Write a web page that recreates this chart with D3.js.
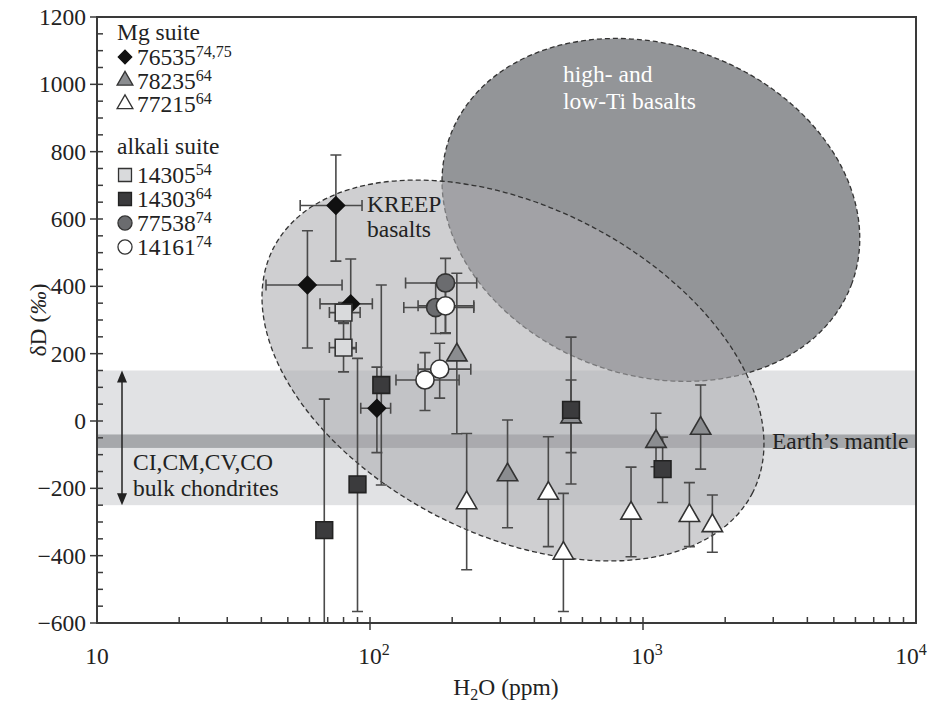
<!DOCTYPE html>
<html>
<head>
<meta charset="utf-8">
<script src="https://cdn.jsdelivr.net/npm/d3@7"></script>
<style>
  body { margin: 0; background: #fff; }
  svg { display: block; font-family: "Liberation Serif", "DejaVu Serif", serif; }
</style>
</head>
<body>
<div id="chart"></div>
<script>
// [H2O ppm, dD, dD low, dD high, H2O low, H2O high]
const s76535 = [
  [75, 640, 475, 790, 55.5, 93.5],
  [59, 404, 217, 565, 41.6, 79],
  [85, 348, 215, 481, 65.6, 102],
  [106, 38, -94, 160, 92.5, 119]
];
const s78235 = [
  [208, 196, -38, 439],
  [319, -160, -317, 3],
  [545, 12, -94, 122],
  [1116, -61, -136, 23],
  [1626, -22, -143, 107]
];
const s77215 = [
  [226, -243, -442, -37],
  [450, -215, -373, -47],
  [511, -393, -566, -215],
  [904, -274, -403, -137],
  [1479, -281, -373, -183],
  [1795, -311, -390, -220]
];
const s14305 = [
  [80, 322, 292, 352, 71, 92],
  [80, 218, 146, 290, 71, 89]
];
const s14303 = [
  [110, 107, -190, 404],
  [90, -188, -566, 186],
  [68, -324, -700, 65],
  [545, 33, -187, 249],
  [1180, -143, -242, -48]
];
const s77538 = [
  [189, 410, 260, 483, 135, 246],
  [174, 337, 260, 410, 133, 240]
];
const s14161 = [
  [189, 342, 262, 410, 150, 240],
  [180, 154, 68, 231, 150, 234],
  [159, 122, 31, 203, 124.5, 212]
];

const chondriteBand = [-250, 150];
const mantleBand = [-80, -40];
const kreepCenter = [334, 150];
const marebasaltCenter = [1069, 627];
const yTicks = [1200, 1000, 800, 600, 400, 200, 0, -200, -400, -600];
const xTicks = [10, 100, 1000, 10000];
const xTickLabels = [["10", ""], ["10", "2"], ["10", "3"], ["10", "4"]];

const legendMg = [
  {name: "76535", ref: "74,75", shape: "diamond"},
  {name: "78235", ref: "64", shape: "triGray"},
  {name: "77215", ref: "64", shape: "triWhite"}
];
const legendAlkali = [
  {name: "14305", ref: "54", shape: "sqLight"},
  {name: "14303", ref: "64", shape: "sqDark"},
  {name: "77538", ref: "74", shape: "circDark"},
  {name: "14161", ref: "74", shape: "circWhite"}
];

const W = 933, H = 702;
const L = 97, R = 916, T = 17, B = 623;
const FS = 23.5, FSsup = 16;

const svg = d3.select("#chart").append("svg")
  .attr("width", W).attr("height", H);

const x = d3.scaleLog().domain([10, 10000]).range([L, R]);
const y = d3.scaleLinear().domain([-600, 1200]).range([B, T]);

svg.append("clipPath").attr("id", "plot")
  .append("rect").attr("x", L).attr("y", T).attr("width", R - L).attr("height", B - T);

const plot = svg.append("g").attr("clip-path", "url(#plot)");

// bands
plot.append("rect")
  .attr("x", L).attr("width", R - L)
  .attr("y", y(chondriteBand[1])).attr("height", y(chondriteBand[0]) - y(chondriteBand[1]))
  .attr("fill", "#e1e2e4");
plot.append("rect")
  .attr("x", L).attr("width", R - L)
  .attr("y", y(mantleBand[1])).attr("height", y(mantleBand[0]) - y(mantleBand[1]))
  .attr("fill", "#a6a8ab");

// field ellipses
plot.append("ellipse")
  .attr("transform", `translate(${x(marebasaltCenter[0])},${y(marebasaltCenter[1])}) rotate(20)`)
  .attr("rx", 214).attr("ry", 165)
  .attr("fill", "#939598")
  .attr("stroke", "#333").attr("stroke-width", 1.3).attr("stroke-dasharray", "5,3");
plot.append("ellipse")
  .attr("transform", `translate(${x(kreepCenter[0])},${y(kreepCenter[1])}) rotate(27)`)
  .attr("rx", 269).attr("ry", 164)
  .attr("fill", "rgb(172,173,176)").attr("fill-opacity", 0.58)
  .attr("stroke", "#333").attr("stroke-width", 1.3).attr("stroke-dasharray", "5,3");

// labels in plot
const lbl = (t, px, py, col) => svg.append("text").attr("x", px).attr("y", py)
  .attr("font-size", FS).attr("fill", col || "#222").text(t);
lbl("KREEP", 367, 212);
lbl("basalts", 367, 237);
lbl("high- and", 563, 82, "#fff");
lbl("low-Ti basalts", 563, 109, "#fff");
lbl("CI,CM,CV,CO", 133, 470);
lbl("bulk chondrites", 133, 496);
lbl("Earth\u2019s mantle", 772, 449);

// double arrow for chondrites
const ax = 122;
svg.append("line").attr("x1", ax).attr("x2", ax)
  .attr("y1", y(chondriteBand[1]) + 8).attr("y2", y(chondriteBand[0]) - 8)
  .attr("stroke", "#222").attr("stroke-width", 1.5);
svg.append("path")
  .attr("d", `M${ax},${y(chondriteBand[1])} l-5,12 l10,0 Z M${ax},${y(chondriteBand[0])} l-5,-12 l10,0 Z`)
  .attr("fill", "#222");

// data
const styles = {
  diamond:  {type: d3.symbolSquare, size: 150, rot: 45, fill: "#111", stroke: "#111"},
  triGray:  {type: d3.symbolTriangle, size: 180, rot: 0, fill: "#8b8d90", stroke: "#333"},
  triWhite: {type: d3.symbolTriangle, size: 180, rot: 0, fill: "#fff", stroke: "#333"},
  sqLight:  {type: d3.symbolSquare, size: 280, rot: 0, fill: "#d9dadc", stroke: "#333"},
  sqDark:   {type: d3.symbolSquare, size: 280, rot: 0, fill: "#3b3b3d", stroke: "#222"},
  circDark: {type: d3.symbolCircle, size: 260, rot: 0, fill: "#6b6c6f", stroke: "#333"},
  circWhite:{type: d3.symbolCircle, size: 260, rot: 0, fill: "#fff", stroke: "#333"}
};

const series = [
  [s76535, "diamond"], [s78235, "triGray"], [s77215, "triWhite"],
  [s14305, "sqLight"], [s14303, "sqDark"], [s77538, "circDark"], [s14161, "circWhite"]
];

const bars = plot.append("g").attr("stroke", "#4a4a4a").attr("stroke-width", 1.6).attr("fill", "none");
const cap = 5.5;
series.forEach(([data]) => {
  data.forEach(d => {
    const cx = x(d[0]), cy = y(d[1]);
    const y0 = y(d[2]), y1 = y(d[3]);
    bars.append("path").attr("d",
      `M${cx},${y0}V${y1}M${cx - cap},${y0}H${cx + cap}M${cx - cap},${y1}H${cx + cap}`);
    if (d.length > 4) {
      const x0 = x(d[4]), x1 = x(d[5]);
      bars.append("path").attr("d",
        `M${x0},${cy}H${x1}M${x0},${cy - cap}V${cy + cap}M${x1},${cy - cap}V${cy + cap}`);
    }
  });
});

const marks = plot.append("g");
series.forEach(([data, key]) => {
  const st = styles[key];
  marks.selectAll(null).data(data).enter().append("path")
    .attr("d", d3.symbol().type(st.type).size(st.size))
    .attr("transform", d => `translate(${x(d[0])},${y(d[1])}) rotate(${st.rot})`)
    .attr("fill", st.fill).attr("stroke", st.stroke).attr("stroke-width", 1.6);
});

// legend
const leg = svg.append("g");
function legendItem(item, cy) {
  const st = styles[item.shape];
  const scale = 0.6;
  leg.append("path")
    .attr("d", d3.symbol().type(st.type).size(st.size * scale))
    .attr("transform", `translate(125,${cy}) rotate(${st.rot})`)
    .attr("fill", st.fill).attr("stroke", st.stroke).attr("stroke-width", 1.3);
  const t = leg.append("text").attr("x", 137).attr("y", cy + 8).attr("font-size", FS).attr("fill", "#222");
  t.append("tspan").text(item.name);
  t.append("tspan").attr("dy", -8).attr("font-size", FSsup).text(item.ref);
}
leg.append("text").attr("x", 117).attr("y", 40).attr("font-size", FS).attr("fill", "#222").text("Mg suite");
legendMg.forEach((d, i) => legendItem(d, 57 + i * 23.5));
leg.append("text").attr("x", 117).attr("y", 154).attr("font-size", FS).attr("fill", "#222").text("alkali suite");
legendAlkali.forEach((d, i) => legendItem(d, 175 + i * 24));

// frame
svg.append("rect").attr("x", L).attr("y", T).attr("width", R - L).attr("height", B - T)
  .attr("fill", "none").attr("stroke", "#3a3a3a").attr("stroke-width", 2);

// y ticks
const tk = svg.append("g").attr("stroke", "#3a3a3a").attr("stroke-width", 1.5);
d3.range(-600, 1201, 50).forEach(v => {
  const major = v % 200 === 0;
  tk.append("line").attr("x1", major ? L - 7 : L).attr("x2", L + 6)
    .attr("y1", y(v)).attr("y2", y(v));
});
// x ticks (log minor)
[10, 100, 1000].forEach(dec => {
  d3.range(1, 10).forEach(m => {
    const v = dec * m;
    const major = m === 1;
    if (v === 10) return;
    tk.append("line").attr("x1", x(v)).attr("x2", x(v))
      .attr("y1", B - 6).attr("y2", major ? B + 7 : B);
  });
});

const yl = svg.append("g").attr("font-size", FS).attr("fill", "#222").attr("text-anchor", "end");
yTicks.forEach(v => {
  yl.append("text").attr("x", 86).attr("y", y(v) + 8)
    .text(v < 0 ? "\u2212" + Math.abs(v) : v);
});
const xl = svg.append("g").attr("font-size", FS).attr("fill", "#222").attr("text-anchor", "middle");
xTicks.forEach((v, i) => {
  const shift = i === 3 ? -5 : (xTickLabels[i][1] ? 4 : 0);
  const t = xl.append("text").attr("x", x(v) + shift).attr("y", 664);
  t.append("tspan").text(xTickLabels[i][0]);
  if (xTickLabels[i][1]) t.append("tspan").attr("dy", -9).attr("font-size", FSsup).text(xTickLabels[i][1]);
});

// axis titles
const xt = svg.append("text").attr("x", 506).attr("y", 695).attr("font-size", FS)
  .attr("fill", "#222").attr("text-anchor", "middle");
xt.append("tspan").text("H");
xt.append("tspan").attr("dy", 5).attr("font-size", FSsup).text("2");
xt.append("tspan").attr("dy", -5).text("O (ppm)");

const yt = svg.append("text").attr("transform", "translate(46,320) rotate(-90)")
  .attr("font-size", FS).attr("fill", "#222").attr("text-anchor", "middle");
yt.append("tspan").text("\u03b4D (");
yt.append("tspan").attr("font-style", "italic").text("\u2030");
yt.append("tspan").text(")");
</script>
</body>
</html>
